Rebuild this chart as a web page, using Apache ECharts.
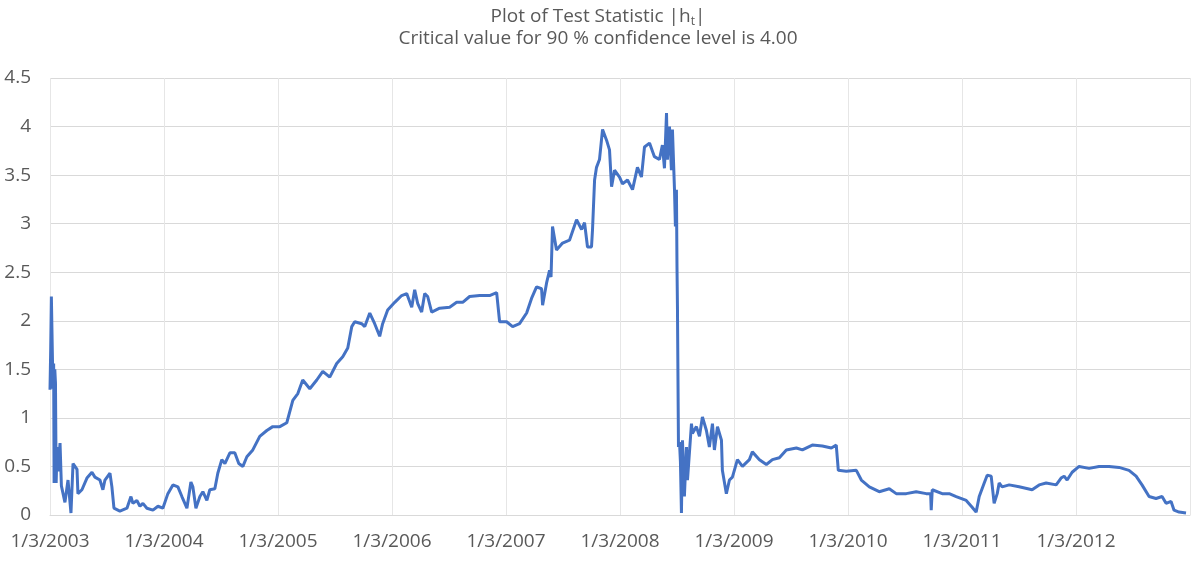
<!DOCTYPE html>
<html>
<head>
<meta charset="utf-8">
<script src="https://cdn.jsdelivr.net/npm/echarts@6/dist/echarts.min.js"></script>
<style>
  html, body { margin: 0; padding: 0; background: #ffffff; }
  #chart { width: 1196px; height: 561px; }
</style>
</head>
<body>
<div id="chart"></div>
<script>
// Time in years since 1/3/2003
const years = [
  0.000, 0.006, 0.012, 0.020, 0.026, 0.032, 0.036, 0.042, 0.048, 0.054,
  0.062, 0.070, 0.080, 0.088, 0.100, 0.114, 0.131, 0.158, 0.184, 0.202,
  0.237, 0.245, 0.280, 0.324, 0.368, 0.394, 0.438, 0.464, 0.482, 0.526,
  0.543, 0.561, 0.613, 0.675, 0.710, 0.727, 0.762, 0.789, 0.815, 0.850,
  0.903, 0.947, 0.990, 1.034, 1.078, 1.122, 1.157, 1.201, 1.236, 1.253,
  1.280, 1.315, 1.341, 1.376, 1.402, 1.446, 1.472, 1.507, 1.534, 1.578,
  1.621, 1.656, 1.692, 1.727,
  1.779, 1.840, 1.902, 1.954, 2.016, 2.077, 2.130, 2.174, 2.217, 2.279,
  2.340, 2.393, 2.454, 2.515, 2.568, 2.612, 2.647, 2.673, 2.734, 2.761,
  2.805, 2.848, 2.892, 2.918, 2.962, 3.024, 3.085, 3.129, 3.173, 3.199,
  3.225, 3.260, 3.287, 3.313, 3.348, 3.418, 3.506, 3.567, 3.620, 3.681,
  3.769, 3.856, 3.918, 3.944, 4.005, 4.058, 4.119, 4.181, 4.224, 4.268,
  4.312, 4.321, 4.356, 4.382, 4.395, 4.408, 4.443, 4.496, 4.557, 4.619,
  4.663, 4.689, 4.715, 4.750, 4.759, 4.777, 4.794, 4.820, 4.847, 4.882,
  4.908, 4.926, 4.952, 4.996, 5.022, 5.066, 5.110, 5.153, 5.188, 5.215,
  5.259, 5.302, 5.346, 5.372, 5.390, 5.408, 5.416, 5.434, 5.451, 5.460,
  5.478, 5.486, 5.495, 5.500, 5.504, 5.513, 5.522, 5.530, 5.539, 5.548,
  5.565, 5.583, 5.592, 5.627, 5.635, 5.670, 5.697, 5.723, 5.758, 5.784,
  5.811, 5.828, 5.855, 5.890, 5.898, 5.933, 5.960, 5.986, 6.030, 6.074,
  6.135, 6.161, 6.223, 6.284, 6.337, 6.398, 6.459, 6.547, 6.600, 6.687,
  6.775, 6.854, 6.897, 6.915, 6.985, 7.073, 7.117, 7.187, 7.274, 7.362,
  7.423, 7.511, 7.598, 7.686, 7.725, 7.730, 7.739, 7.826, 7.888, 7.949,
  8.037, 8.089, 8.124, 8.151, 8.195, 8.221, 8.256, 8.282, 8.309, 8.326,
  8.352, 8.414, 8.501, 8.615, 8.677, 8.738, 8.826, 8.869, 8.896, 8.922,
  8.966, 9.027, 9.115, 9.202, 9.290, 9.378, 9.465, 9.527, 9.579, 9.641,
  9.702, 9.755, 9.790, 9.834, 9.860, 9.904, 9.965
];

// Test statistic |h_t|
const values = [
  1.29, 1.70, 2.25, 2.25, 1.30, 1.56, 0.33, 1.50, 1.36, 0.33,
  0.70, 0.45, 0.60, 0.74, 0.30, 0.29, 0.13, 0.36, 0.02, 0.53,
  0.47, 0.22, 0.26, 0.38, 0.44, 0.39, 0.36, 0.26, 0.36, 0.43,
  0.29, 0.07, 0.04, 0.07, 0.19, 0.12, 0.15, 0.09, 0.12, 0.07,
  0.05, 0.09, 0.07, 0.22, 0.31, 0.29, 0.19, 0.07, 0.34, 0.29,
  0.07, 0.19, 0.24, 0.15, 0.26, 0.27, 0.43, 0.57, 0.53, 0.64,
  0.64, 0.53, 0.50, 0.60,
  0.67, 0.81, 0.87, 0.91, 0.91, 0.95, 1.18, 1.25, 1.39, 1.30,
  1.39, 1.48, 1.42, 1.56, 1.63, 1.72, 1.94, 1.99, 1.97, 1.94,
  2.08, 1.97, 1.84, 1.97, 2.11, 2.19, 2.26, 2.28, 2.14, 2.32,
  2.18, 2.09, 2.28, 2.25, 2.09, 2.13, 2.14, 2.19, 2.19, 2.25,
  2.26, 2.26, 2.29, 1.99, 1.99, 1.94, 1.97, 2.08, 2.23, 2.35,
  2.33, 2.16, 2.39, 2.52, 2.45, 2.97, 2.73, 2.80, 2.83, 3.04,
  2.94, 3.01, 2.76, 2.76, 2.94, 3.45, 3.58, 3.66, 3.97, 3.86,
  3.76, 3.38, 3.55, 3.48, 3.41, 3.45, 3.35, 3.58, 3.48, 3.79,
  3.83, 3.69, 3.66, 3.81, 3.57, 4.14, 3.66, 4.00, 3.55, 3.97,
  3.35, 2.97, 3.35, 2.55, 2.14, 0.70, 0.75, 0.55, 0.02, 0.77,
  0.19, 0.70, 0.36, 0.94, 0.84, 0.91, 0.81, 1.01, 0.87, 0.70,
  0.94, 0.67, 0.91, 0.77, 0.46, 0.22, 0.36, 0.39, 0.57, 0.50,
  0.57, 0.65, 0.57, 0.52, 0.57, 0.59, 0.67, 0.69, 0.67, 0.72,
  0.71, 0.69, 0.72, 0.46, 0.45, 0.46, 0.36, 0.29, 0.24, 0.27,
  0.22, 0.22, 0.24, 0.22, 0.22, 0.05, 0.26, 0.22, 0.22, 0.19,
  0.15, 0.08, 0.03, 0.19, 0.33, 0.41, 0.40, 0.12, 0.22, 0.33,
  0.29, 0.31, 0.29, 0.26, 0.31, 0.33, 0.31, 0.38, 0.40, 0.36,
  0.44, 0.50, 0.48, 0.50, 0.50, 0.49, 0.46, 0.40, 0.31, 0.19,
  0.17, 0.19, 0.12, 0.14, 0.05, 0.03, 0.02
];

const startYear = 2003;
const yearTickLabel = (k) => '1/3/' + (startYear + k);

const titleLine1 = 'Plot of Test Statistic |h';
const titleSub = 't';
const titleLine2 = 'Critical value for 90 % confidence level is 4.00';

const seriesData = years.map((t, i) => [t, values[i]]);

const chart = echarts.init(document.getElementById('chart'), null, { renderer: 'canvas' });
const FONT = '"Open Sans", "Noto Sans", sans-serif';

chart.setOption({
  animation: false,
  backgroundColor: '#ffffff',
  title: {
    text: titleLine1 + '{s|' + titleSub + '}|\n' + titleLine2,
    left: 'center',
    top: 1,
    textStyle: {
      fontFamily: FONT,
      fontSize: 19,
      fontWeight: 'normal',
      color: '#595959',
      lineHeight: 22,
      rich: {
        s: { fontFamily: FONT, fontSize: 12, color: '#595959', verticalAlign: 'bottom', lineHeight: 18 }
      }
    }
  },
  grid: { left: 50, right: 6, top: 78, bottom: 46, containLabel: false },
  xAxis: {
    type: 'value',
    min: 0,
    max: 10,
    interval: 1,
    axisLine: { show: true, lineStyle: { color: '#d9d9d9', width: 1 } },
    axisTick: { show: false },
    axisLabel: {
      showMaxLabel: false,
      margin: 17,
      fontFamily: FONT,
      fontSize: 19,
      color: '#595959',
      formatter: (v) => yearTickLabel(Math.round(v))
    },
    splitLine: { show: true, lineStyle: { color: '#e6e6e6', width: 1 } }
  },
  yAxis: {
    type: 'value',
    min: 0,
    max: 4.5,
    interval: 0.5,
    axisLine: { show: false },
    axisTick: { show: false },
    axisLabel: { margin: 19, fontFamily: FONT, fontSize: 19, color: '#595959' },
    splitLine: { show: true, lineStyle: { color: '#d9d9d9', width: 1 } }
  },
  series: [{
    type: 'line',
    data: seriesData,
    showSymbol: false,
    symbol: 'none',
    lineStyle: { color: '#4472C4', width: 3 },
    itemStyle: { color: '#4472C4' }
  }]
});
</script>
</body>
</html>
